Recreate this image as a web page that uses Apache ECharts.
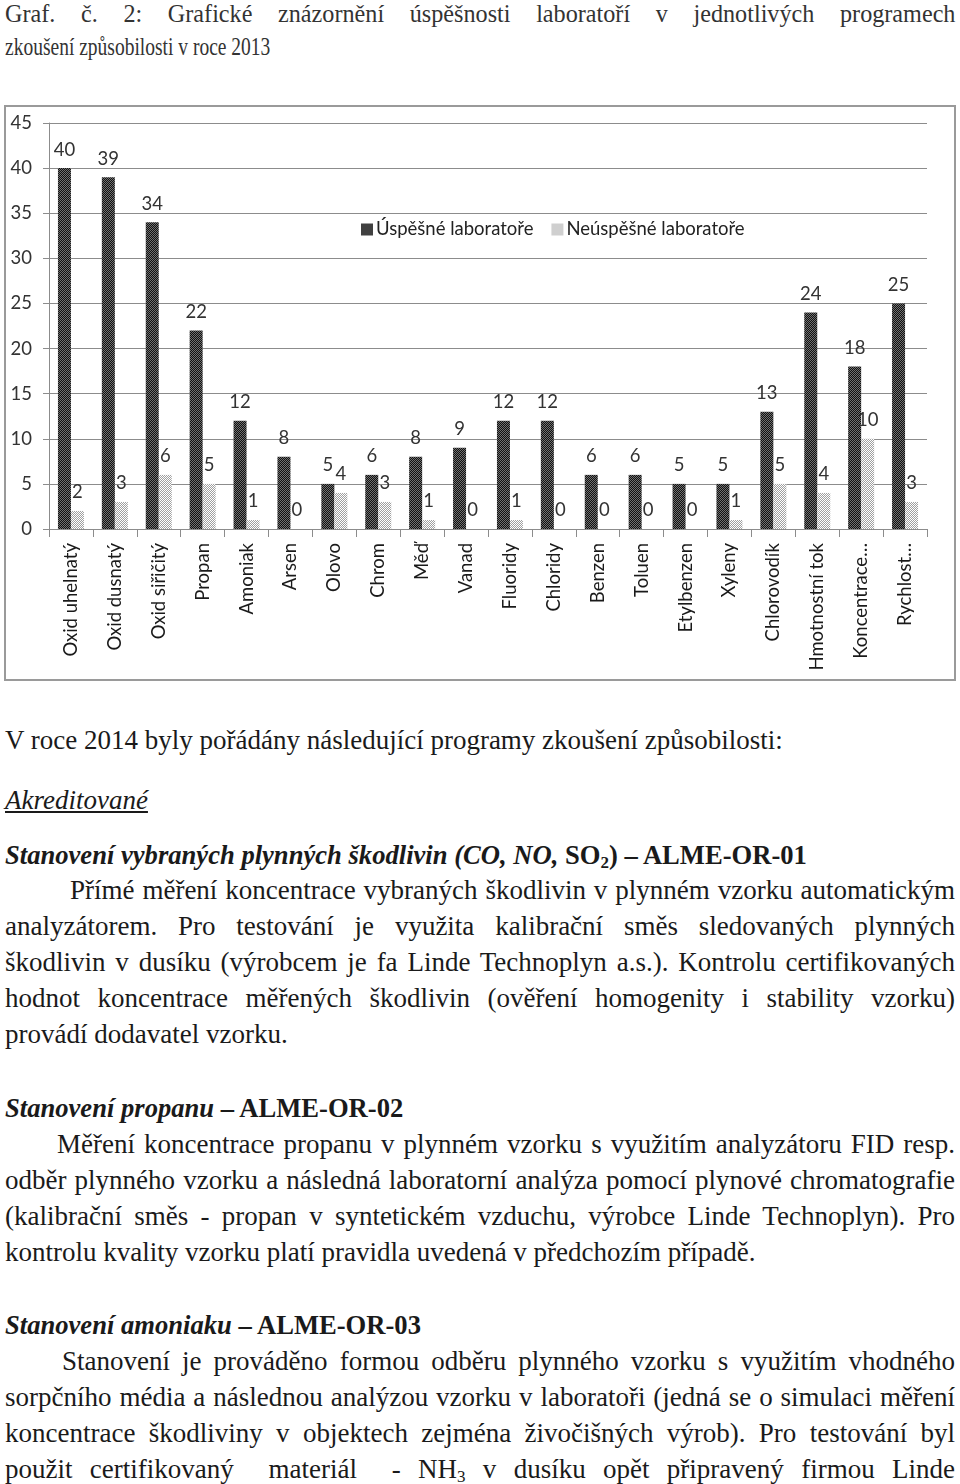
<!DOCTYPE html>
<html>
<head>
<meta charset="utf-8">
<script src="https://cdn.jsdelivr.net/npm/echarts@6/dist/echarts.min.js"></script>
<style>
  html, body { margin: 0; padding: 0; background: #fff; }
  body { width: 960px; height: 1484px; position: relative; overflow: hidden;
         font-family: "Liberation Serif", "Times New Roman", serif; color: #1a1a1a; }
  .ln { position: absolute; left: 5px; width: 950px; font-size: 27px; line-height: 36px; height: 36px;
        white-space: nowrap; }
  .h { font-size: 26.6px; }
  .j { text-align: justify; text-align-last: justify; white-space: normal; }
  .hd { position: absolute; left: 5px; font-size: 26px; line-height: 33px; height: 33px;
        transform-origin: 0 0; white-space: nowrap; color: #333; }
  .u { text-decoration: underline; }
  sub { font-size: 17px; vertical-align: -4px; line-height: 0; }
  #chartbox { position: absolute; left: 4px; top: 105px; width: 952px; height: 576px;
              border: 2px solid #9a9a9a; box-sizing: border-box; }
  #chart { width: 948px; height: 572px; }
</style>
</head>
<body>
<div class="hd j" style="top:-3px; width:1022px; transform: scaleX(0.93);">Graf. č. 2: Grafické znázornění úspěšnosti laboratoří v jednotlivých programech</div>
<div class="hd" style="top:30px; width:1267px; transform: scaleX(0.75);">zkoušení způsobilosti v roce 2013</div>

<div id="chartbox"><div id="chart"></div></div>

<div class="ln" style="top:722px;">V roce 2014 byly pořádány následující programy zkoušení způsobilosti:</div>
<div class="ln" style="top:782px;"><i class="u">Akreditované</i></div>
<div class="ln h" style="top:837px;"><b><i>Stanovení vybraných plynných škodlivin (CO, NO,</i> SO<sub>2</sub>) – ALME-OR-01</b></div>
<div class="ln j" style="top:872px; left:70px; width:885px;">Přímé měření koncentrace vybraných škodlivin v plynném vzorku automatickým</div>
<div class="ln j" style="top:908px;">analyzátorem. Pro testování je využita kalibrační směs sledovaných plynných</div>
<div class="ln j" style="top:944px;">škodlivin v dusíku (výrobcem je fa Linde Technoplyn a.s.). Kontrolu certifikovaných</div>
<div class="ln j" style="top:980px;">hodnot koncentrace měřených škodlivin (ověření homogenity i stability vzorku)</div>
<div class="ln" style="top:1016px;">provádí dodavatel vzorku.</div>

<div class="ln h" style="top:1090px;"><b><i>Stanovení propanu</i> – ALME-OR-02</b></div>
<div class="ln j" style="top:1126px; left:57px; width:898px;">Měření koncentrace propanu v plynném vzorku s využitím analyzátoru FID resp.</div>
<div class="ln j" style="top:1162px;">odběr plynného vzorku a následná laboratorní analýza pomocí plynové chromatografie</div>
<div class="ln j" style="top:1198px;">(kalibrační směs - propan v syntetickém vzduchu, výrobce Linde Technoplyn). Pro</div>
<div class="ln" style="top:1234px;">kontrolu kvality vzorku platí pravidla uvedená v předchozím případě.</div>

<div class="ln h" style="top:1307px;"><b><i>Stanovení amoniaku</i> – ALME-OR-03</b></div>
<div class="ln j" style="top:1343px; left:62px; width:893px;">Stanovení je prováděno formou odběru plynného vzorku s využitím vhodného</div>
<div class="ln j" style="top:1379px;">sorpčního média a následnou analýzou vzorku v laboratoři (jedná se o simulaci měření</div>
<div class="ln j" style="top:1415px;">koncentrace škodliviny v objektech zejména živočišných výrob). Pro testování byl</div>
<div class="ln j" style="top:1451px;">použit certifikovaný &nbsp;materiál&nbsp; - NH<sub>3</sub> v dusíku opět připravený firmou Linde</div>

<script>
const categories = ['Oxid uhelnatý','Oxid dusnatý','Oxid siřičitý','Propan','Amoniak','Arsen','Olovo','Chrom','Měď','Vanad','Fluoridy','Chloridy','Benzen','Toluen','Etylbenzen','Xyleny','Chlorovodík','Hmotnostní tok','Koncentrace…','Rychlost…'];
const successful = [40,39,34,22,12,8,5,6,8,9,12,12,6,6,5,5,13,24,18,25];
const unsuccessful = [2,3,6,5,1,0,4,3,1,0,1,0,0,0,0,1,5,4,10,3];
const seriesNames = ['Úspěšné laboratoře','Neúspěšné laboratoře'];
const yMin = 0, yMax = 45, yStep = 5;

function makePattern(c1, c2) {
  const cv = document.createElement('canvas');
  cv.width = 2; cv.height = 2;
  const ctx = cv.getContext('2d');
  ctx.fillStyle = c1; ctx.fillRect(0,0,2,2);
  ctx.fillStyle = c2; ctx.fillRect(0,0,1,1); ctx.fillRect(1,1,1,1);
  return { image: cv, repeat: 'repeat' };
}
const darkFill = makePattern('#707070', '#111111');
const lightFill = makePattern('#ffffff', '#a0a0a0');

const chartFont = 'Lato, "Open Sans", sans-serif';
const fs = 18.5;
const chart = echarts.init(document.getElementById('chart'), null, { renderer: 'canvas' });
const labelStyle = { show: true, position: 'top', distance: 9, fontFamily: chartFont, fontSize: fs, color: '#333' };
chart.setOption({
  animation: false,
  textStyle: { fontFamily: chartFont },
  grid: { left: 43, right: 27, top: 16, bottom: 150, containLabel: false },
  legend: {
    left: 350, top: 108, itemWidth: 12, itemHeight: 12, itemGap: 18, icon: 'rect',
    textStyle: { fontFamily: chartFont, fontSize: fs, color: '#222', padding: [0,0,0,-2] },
    data: seriesNames
  },
  xAxis: {
    type: 'category', data: categories,
    axisLine: { lineStyle: { color: '#8c8c8c', width: 1 } },
    axisTick: { show: true, alignWithLabel: false, length: 8, lineStyle: { color: '#8c8c8c' } },
    axisLabel: { rotate: 90, interval: 0, margin: 14, fontFamily: chartFont, fontSize: fs, color: '#1a1a1a' }
  },
  yAxis: {
    type: 'value', min: yMin, max: yMax, interval: yStep,
    axisLine: { show: true, lineStyle: { color: '#8c8c8c' } },
    axisTick: { show: true, length: 6, lineStyle: { color: '#8c8c8c' } },
    axisLabel: { margin: 17, fontFamily: chartFont, fontSize: fs, color: '#333' },
    splitLine: { lineStyle: { color: '#8c8c8c', width: 1 } }
  },
  series: [
    { name: seriesNames[0], type: 'bar', data: successful, barWidth: 13, barGap: '0%',
      itemStyle: { color: darkFill }, label: labelStyle },
    { name: seriesNames[1], type: 'bar', data: unsuccessful, barWidth: 13, barGap: '0%',
      itemStyle: { color: lightFill }, label: labelStyle }
  ]
});
</script>
</body>
</html>
